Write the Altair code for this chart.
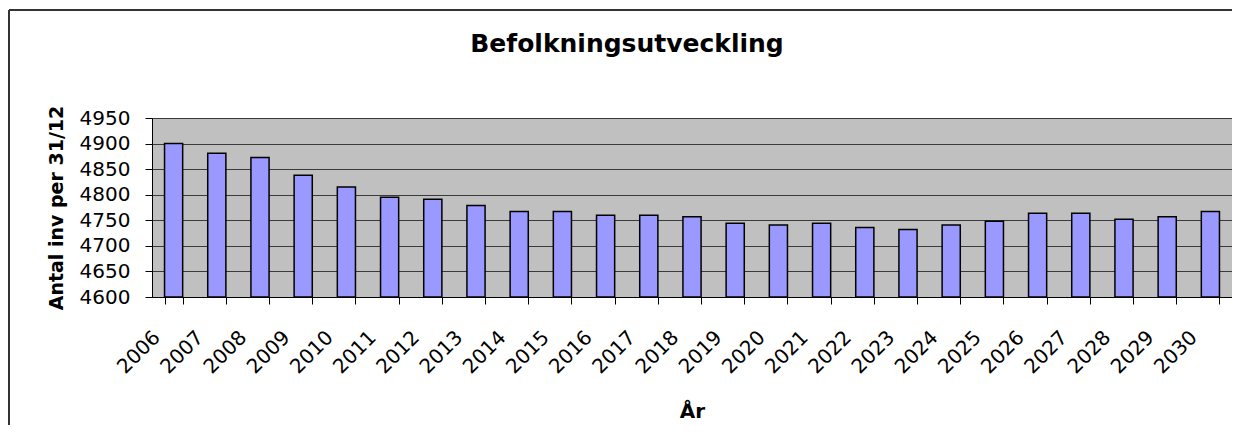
import altair as alt
import pandas as pd

years = [str(y) for y in range(2006, 2031)]
population = [4900, 4881, 4873, 4838, 4815, 4795, 4791, 4779, 4767, 4767,
              4760, 4760, 4757, 4744, 4741, 4744, 4736, 4732, 4741, 4748,
              4764, 4764, 4752, 4757, 4767]
y_ticks = [4600, 4650, 4700, 4750, 4800, 4850, 4900, 4950]

df = pd.DataFrame({"year": years, "value": population})

FONT = "DejaVu Sans"
W, H = 1080, 179

bars = alt.Chart(df).mark_bar(
    fill="#9999FF", stroke="#000000", strokeWidth=1.5
).encode(
    x=alt.X("year:N",
            sort=years,
            scale=alt.Scale(paddingInner=0.58, paddingOuter=0.29),
            axis=alt.Axis(title="År", labelAngle=-45, labelAlign="right",
                          labelBaseline="middle", labelOffset=-17,
                          labelPadding=30, labelFontSize=20, labelFont=FONT,
                          labelColor="#000000", tickBand="extent", tickSize=7,
                          tickColor="#000000", domainColor="#000000",
                          grid=False, titleFont=FONT, titleFontSize=20,
                          titleFontWeight="bold", titleColor="#000000",
                          titleY=120, titleBaseline="alphabetic")),
    y=alt.Y("value:Q",
            scale=alt.Scale(domain=[4600, 4950], zero=False, nice=False),
            axis=alt.Axis(title="Antal inv per 31/12", values=y_ticks,
                          format="d",
                          labelFontSize=20, labelFont=FONT, labelColor="#000000",
                          labelPadding=15, tickSize=7, tickColor="#000000",
                          domainColor="#000000", grid=True, gridColor="#3a3a3a",
                          gridWidth=1, titleFont=FONT, titleFontSize=19,
                          titleFontWeight="bold", titleColor="#000000",
                          titleAngle=270, titleX=-96, titleY=H / 2,
                          titleAlign="center", titleBaseline="middle")),
    y2=alt.datum(4600),
)

frame_src = alt.Data(values=[{}])
border_top = alt.Chart(frame_src).mark_rule(
    stroke="#333333", strokeWidth=2
).encode(
    x=alt.value(-143), x2=alt.value(1090), y=alt.value(-108),
)
border_left = alt.Chart(frame_src).mark_rule(
    stroke="#333333", strokeWidth=2
).encode(
    x=alt.value(-143), y=alt.value(-108), y2=alt.value(330),
)

chart = alt.layer(border_top, border_left, bars).properties(
    width=W, height=H,
    padding={"left": 144, "top": 110, "right": 0, "bottom": 128},
    autosize=alt.AutoSizeParams(type="none"),
    title=alt.TitleParams("Befolkningsutveckling", font=FONT, fontSize=25,
                          fontWeight="bold", color="#000000", anchor="middle",
                          frame="group", dx=-65, offset=-68,
                          baseline="alphabetic"),
).configure_view(fill="#C0C0C0", stroke="#808080", strokeWidth=1)

chart.save("out.html", embed_options={"renderer": "svg", "actions": False})
